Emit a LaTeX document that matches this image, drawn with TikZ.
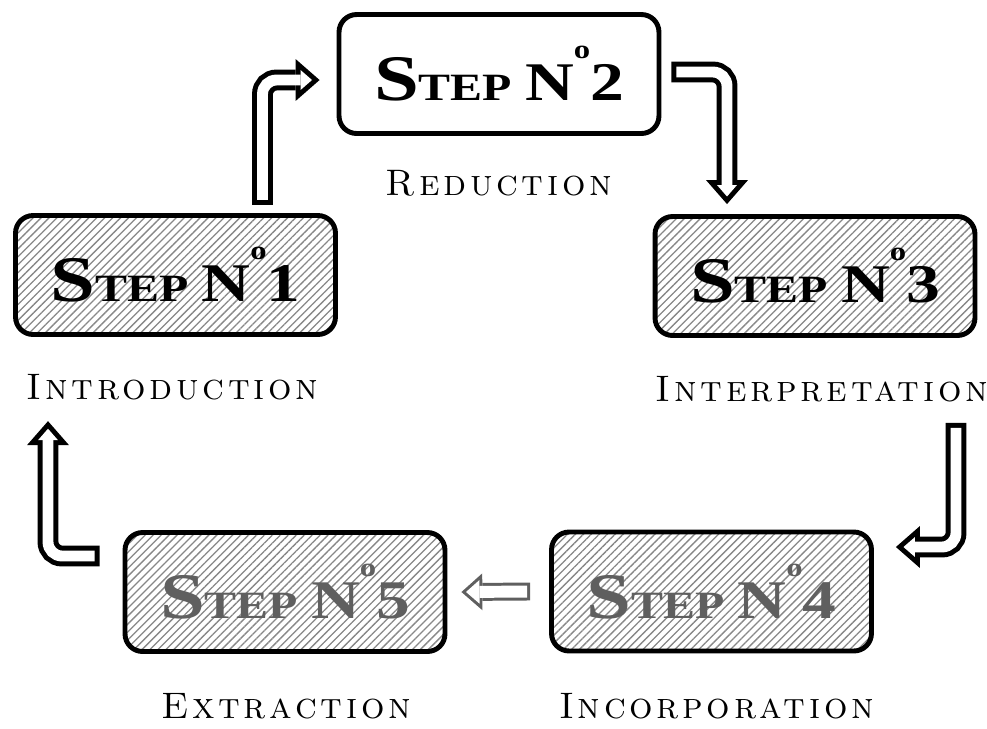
\documentclass[tikz,border=0pt]{standalone}
\usepackage{fontspec}
\usetikzlibrary{calc,patterns.meta,arrows.meta}
\newfontfamily\headfont{Liberation Serif}
\newfontfamily\phasefont{lmromancaps10-regular.otf}[LetterSpace=10]

\definecolor{hatchgray}{RGB}{135,135,135}
\definecolor{fadegray}{RGB}{95,95,95}

% heading of a box
\newcommand{\stepno}[1]{\scalebox{1.24}[1]{\headfont\bfseries
  {\fontsize{37}{37}\selectfont S}{\fontsize{22}{22}\selectfont TEP}\hspace{6pt}%
  {\fontsize{31}{31}\selectfont N\raisebox{24pt}{\fontsize{15}{15}\selectfont o}#1}}}

\tikzset{
  stepbox/.style={draw, line width=2.8pt, rounded corners=10pt,
    minimum width=6.4cm, minimum height=2.38cm, inner sep=0pt},
  hatched/.style={pattern={Lines[angle=45,distance=3.2pt,line width=0.75pt]},
    pattern color=hatchgray},
  phase/.style={anchor=base, font=\fontsize{21}{21}\selectfont\phasefont},
  fatout/.style={line width=11.9pt, rounded corners=8pt,
    -{Triangle[length=13.6pt,width=23.8pt,line width=0pt]}},
  fatin/.style={white, line width=6.2pt, rounded corners=8pt,
    shorten <=2.8pt, shorten >=4.3pt,
    -{Triangle[length=6.5pt,width=11.3pt,line width=0pt]}},
}

\begin{document}
\begin{tikzpicture}[x=0.02cm, y=-0.02cm]
\useasboundingbox (0,0) rectangle (987,728);

% the five steps
\node[stepbox, hatched] (s1) at (175.5,275) {\stepno{1}};
\node[stepbox] (s2) at (499,74) {\stepno{2}};
\node[stepbox, hatched] (s3) at (815,276) {\stepno{3}};
\node[stepbox, hatched, text=fadegray] (s4) at (711.5,591.5) {\stepno{4}};
\node[stepbox, hatched, text=fadegray] (s5) at (285,592) {\stepno{5}};

% names under the boxes
\node[phase] (p1) at ($(s1.south)+(-3,64)$) {Introduction};
\node[phase] (p2) at ($(s2.south)+(0,60)$) {Reduction};
\node[phase] (p3) at ($(s3.south)+(7,64)$) {Interpretation};
\node[phase] (p4) at ($(s4.south)+(5,65)$) {Incorporation};
\node[phase] (p5) at ($(s5.south)+(1,65)$) {Extraction};

% hollow arrows
\coordinate (a1) at ($(s1.north)+(87,-10)$);
\coordinate (b1) at ($(s2.west)+(-17,6)$);
\draw[fatout] (a1) |- (b1);
\draw[fatin] (a1) |- (b1);

\coordinate (a2) at ($(s2.east)+(10,-2)$);
\coordinate (b2) at ($(s3.north)+(-88,-10)$);
\draw[fatout] (a2) -| (b2);
\draw[fatin] (a2) -| (b2);

\coordinate (a3) at ($(s3.south)+(141,85)$);
\coordinate (b3) at ($(s4.east)+(22,-44.5)$);
\draw[fatout] (a3) |- (b3);
\draw[fatin] (a3) |- (b3);

\coordinate (a4) at ($(s4.west)+(-19,0)$);
\coordinate (b4) at ($(s5.east)+(14,0)$);
\draw[fatout, fadegray, line width=10.2pt,
  -{Triangle[length=11.9pt,width=21pt,line width=0pt]}] (a4) -- (b4);
\draw[fatin, line width=6.8pt, shorten <=1.7pt, shorten >=2.6pt,
  -{Triangle[length=7.7pt,width=13.5pt,line width=0pt]}] (a4) -- (b4);

\coordinate (a5) at ($(s5.west)+(-23,-36)$);
\coordinate (b5) at ($(s1.south)+(-127.5,86)$);
\draw[fatout] (a5) -| (b5);
\draw[fatin] (a5) -| (b5);
\end{tikzpicture}
\end{document}
